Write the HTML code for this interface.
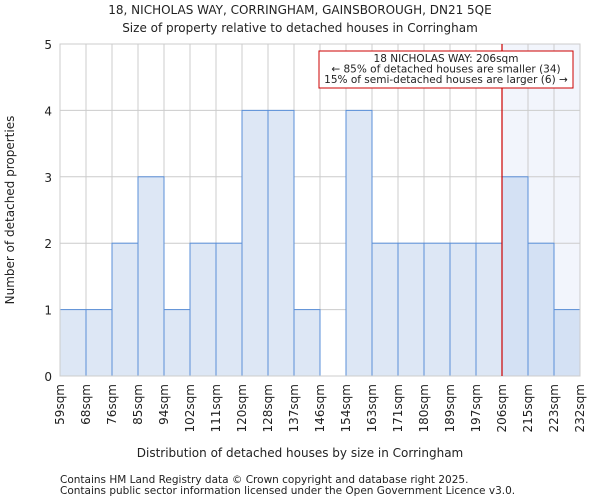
<!DOCTYPE html>
<html><head><meta charset="utf-8"><style>
body{margin:0;background:#fff;font-family:"DejaVu Sans","Liberation Sans",sans-serif}
svg text{font-family:"DejaVu Sans","Liberation Sans",sans-serif;fill:#222}
</style></head><body>
<svg id="chart" width="600" height="500" xmlns="http://www.w3.org/2000/svg">
<text x="300" y="14" font-size="12" text-anchor="middle">18, NICHOLAS WAY, CORRINGHAM, GAINSBOROUGH, DN21 5QE</text>
<text x="300" y="32" font-size="12" text-anchor="middle">Size of property relative to detached houses in Corringham</text>
<g id="plot"></g>
<text x="300" y="457" font-size="12" text-anchor="middle">Distribution of detached houses by size in Corringham</text>
<text transform="translate(14,210) rotate(-90)" font-size="12" text-anchor="middle">Number of detached properties</text>
<text x="60" y="483" font-size="10.5">Contains HM Land Registry data © Crown copyright and database right 2025.</text>
<text x="60" y="494" font-size="10.5">Contains public sector information licensed under the Open Government Licence v3.0.</text>
</svg>
<script>
const categories=["59sqm","68sqm","76sqm","85sqm","94sqm","102sqm","111sqm","120sqm","128sqm","137sqm","146sqm","154sqm","163sqm","171sqm","180sqm","189sqm","197sqm","206sqm","215sqm","223sqm","232sqm"];
const counts=[1,1,2,3,1,2,2,4,4,1,0,4,2,2,2,2,2,3,2,1];
const yTicks=[0,1,2,3,4,5];
const markerIndex=17;
const NS="http://www.w3.org/2000/svg";
const g=document.getElementById('plot');
const L=60,R=580,T=44,B=376,bw=(R-L)/counts.length;
const x=i=>L+i*bw, y=v=>B-(v/5)*(B-T);
function mk(t,a){const e=document.createElementNS(NS,t);for(const k in a)e.setAttribute(k,a[k]);g.appendChild(e);return e;}
let h=mk('rect',{x:x(markerIndex),y:T,width:R-x(markerIndex),height:B-T,fill:'#f2f5fc'});


yTicks.forEach(v=>{let l=mk('line',{x1:L,x2:R,y1:y(v),y2:y(v),stroke:'#ccc'});


let t=mk('text',{x:L-8,y:y(v)+5,'font-size':12,'text-anchor':'end'});t.textContent=v;

});
categories.forEach((c,i)=>{let l=mk('line',{x1:x(i),x2:x(i),y1:T,y2:B,stroke:'#ccc'});


let t=mk('text',{'font-size':12,'text-anchor':'end',transform:`translate(${x(i)+4},${B+8}) rotate(-90)`});t.textContent=c;

});
counts.forEach((v,i)=>{if(!v)return;let r=mk('rect',{x:x(i),y:y(v),width:bw,height:B-y(v),fill:i>=markerIndex?'#d4e1f4':'#dde7f5',stroke:'#5a8fd8','stroke-width':1});

});
let ax=mk('rect',{x:L,y:T,width:R-L,height:B-T,fill:'none',stroke:'#ccc'});


let m=mk('line',{x1:x(markerIndex),x2:x(markerIndex),y1:T,y2:B,stroke:'#cc0000','stroke-width':1.2});


let box=mk('rect',{x:319,y:51,width:254,height:37,fill:'#fff',stroke:'#cc0000'});


["18 NICHOLAS WAY: 206sqm","← 85% of detached houses are smaller (34)","15% of semi-detached houses are larger (6) →"].forEach((s,k)=>{let t=mk('text',{x:446,y:62+k*10.5,'font-size':10.5,'text-anchor':'middle'});t.textContent=s;

});
</script>
</body></html>
